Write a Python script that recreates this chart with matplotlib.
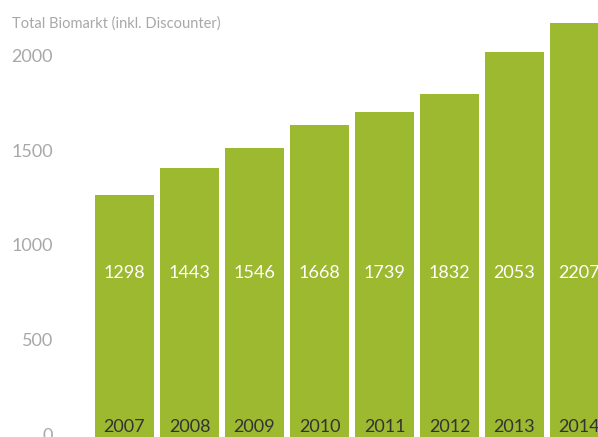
import matplotlib
matplotlib.use("Agg")
import matplotlib.pyplot as plt
from matplotlib.transforms import blended_transform_factory

years = ["2007", "2008", "2009", "2010", "2011", "2012", "2013", "2014"]
values = [1298, 1443, 1546, 1668, 1739, 1832, 2053, 2207]
yticks = [0, 500, 1000, 1500, 2000]
title = "Total Biomarkt (inkl. Discounter)"

W, H = 598, 437
green = "#9db92f"
grey = "#a8a8a8"
plt.rcParams["font.family"] = ["Lato", "DejaVu Sans"]

fig = plt.figure(figsize=(W / 100, H / 100), dpi=100)
ax = fig.add_axes([0, 0, 1, 1])
ax.set_xlim(-124.5 / 65, (W - 124.5) / 65)
ax.set_ylim(19, 2329)
ax.axis("off")

x = list(range(len(years)))
ax.bar(x, values, width=59 / 65, color=green, linewidth=0)

for xi, yr, v in zip(x, years, values):
    ax.text(xi, 859, str(v), ha="center", va="baseline", color="white",
            fontsize=13)
    ax.text(xi, 48, yr, ha="center", va="baseline", color="#333333",
            fontsize=13)

# y tick labels sit on their baseline, left of the bars
tr = blended_transform_factory(fig.transFigure, ax.transData)
for t in yticks:
    ax.text(53 / W, t, str(t), transform=tr, ha="right", va="baseline",
            color=grey, fontsize=13, clip_on=False)

fig.text(12 / W, 1 - 28 / H, title, ha="left", va="baseline", color=grey,
         fontsize=10.5)

fig.savefig("out.png", dpi=100)
